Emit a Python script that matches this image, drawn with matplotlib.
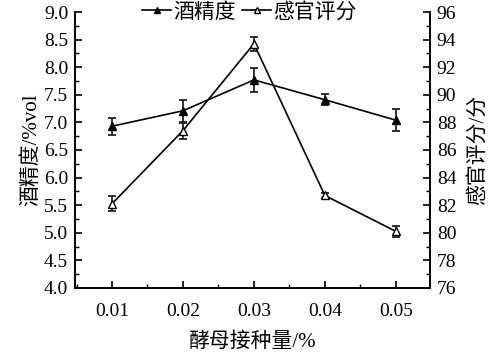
import numpy as np
import matplotlib.pyplot as plt
from matplotlib.ticker import MultipleLocator
from matplotlib.lines import Line2D

plt.rcParams['font.family'] = ['Liberation Serif', 'Noto Sans CJK SC']
plt.rcParams['font.size'] = 14

# datos
inoculo = [0.01, 0.02, 0.03, 0.04, 0.05]
alcohol = [6.93, 7.21, 7.77, 7.41, 7.04]
alcohol_err = [0.15, 0.20, 0.22, 0.10, 0.20]
sensorial = [82.1, 87.4, 93.7, 82.7, 80.1]
sensorial_err = [0.55, 0.58, 0.5, 0.15, 0.4]

fig = plt.figure(figsize=(5.04, 3.64), dpi=100)
ax = fig.add_axes([0.149, 0.209, 0.704, 0.758])
ax2 = ax.twinx()

ax.errorbar(inoculo, alcohol, yerr=alcohol_err, color='black', marker='^',
            markersize=6, markerfacecolor='black', linewidth=1.2,
            capsize=3, elinewidth=1.3, capthick=1.3, ecolor='#222222')
ax2.errorbar(inoculo, sensorial, yerr=sensorial_err, color='black', marker='^',
             markersize=6, markerfacecolor='white', linewidth=1.2,
             capsize=3, elinewidth=1.3, capthick=1.3, ecolor='#222222')

ax.set_xlim(0.0048, 0.0548)
ax.set_ylim(4.0, 9.0)
ax2.set_ylim(76, 96)

ax.set_xticks(inoculo)
ax.set_xticklabels([f"{v:.2f}" for v in inoculo])
ax.xaxis.set_minor_locator(MultipleLocator(0.005))
ax.yaxis.set_major_locator(MultipleLocator(0.5))
ax.yaxis.set_minor_locator(MultipleLocator(0.25))
ax.yaxis.set_major_formatter(plt.FormatStrFormatter('%.1f'))
ax2.yaxis.set_major_locator(MultipleLocator(2))
ax2.yaxis.set_minor_locator(MultipleLocator(1))

for a in (ax, ax2):
    a.spines['top'].set_visible(False)
    for s in a.spines.values():
        s.set_linewidth(1.2)
    a.tick_params(which='major', direction='in', length=5, width=1.2, labelsize=14)
    a.tick_params(which='minor', direction='in', length=3, width=1.0)
ax.tick_params(axis='x', pad=11)
ax.tick_params(axis='y', pad=5)
ax2.tick_params(axis='y', pad=5)

ax.set_xlabel('酵母接种量/%', fontsize=15, labelpad=9)
ax.set_ylabel('酒精度/%vol', fontsize=15, labelpad=2)
ax2.set_ylabel('感官评分/分', fontsize=15, labelpad=8)

h1 = Line2D([], [], color='black', marker='^', markersize=5, markerfacecolor='black', linewidth=1.2)
h2 = Line2D([], [], color='black', marker='^', markersize=5, markerfacecolor='white', linewidth=1.2)
fig.legend([h1, h2], ['酒精度', '感官评分'], loc='center',
           bbox_to_anchor=(0.495, 0.965), ncol=2, frameon=False, fontsize=15,
           handlelength=1.4, handletextpad=0.1, columnspacing=0.3,
           borderpad=0)

fig.savefig('out.png', dpi=100)
